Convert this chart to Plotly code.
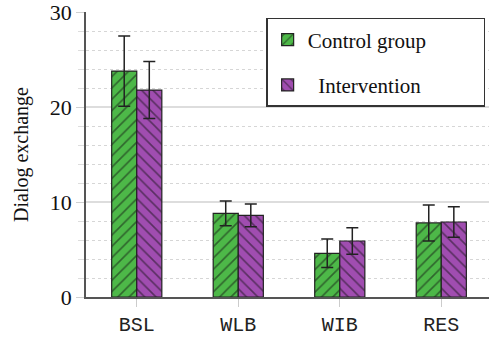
import plotly.graph_objects as go

categories = ["BSL", "WLB", "WIB", "RES"]
control = [23.8, 8.8, 4.6, 7.8]
control_err = [3.7, 1.3, 1.5, 1.9]
intervention = [21.8, 8.6, 5.9, 7.9]
intervention_err = [3.0, 1.2, 1.4, 1.6]

GREEN = "#4db848"
PURPLE = "#a04db0"
NB = "\u00a0"
SERIF = "Liberation Serif, Times New Roman, Tinos, DejaVu Serif, serif"
MONO = "Liberation Mono, Courier New, Cousine, monospace"

fig = go.Figure()
fig.add_trace(go.Bar(
    x=categories, y=control, name="Control group" + NB * 10,
    legendgroup="a",
    marker=dict(color=GREEN, line=dict(color="#222222", width=1.2),
                pattern=dict(shape="/", fgcolor="#111111", bgcolor=GREEN, size=8, solidity=0.2)),
    error_y=dict(type="data", array=control_err, color="#222222", thickness=1.5, width=6),
))
fig.add_trace(go.Bar(
    x=categories, y=intervention, name=NB * 2 + "Intervention",
    legendgroup="b",
    marker=dict(color=PURPLE, line=dict(color="#222222", width=1.2),
                pattern=dict(shape="\\", fgcolor="#111111", bgcolor=PURPLE, size=8, solidity=0.2)),
    error_y=dict(type="data", array=intervention_err, color="#222222", thickness=1.5, width=6),
))

fig.update_layout(
    width=489, height=337,
    margin=dict(l=86, r=0, t=11, b=34),
    paper_bgcolor="white", plot_bgcolor="white",
    barmode="group", bargap=0.506, bargroupgap=0,
    font=dict(family=SERIF, size=21, color="#111111"),
    legend=dict(x=0.447, y=0.979, xanchor="left", yanchor="top",
                bordercolor="#333333", borderwidth=1.5, bgcolor="white",
                tracegroupgap=15, font=dict(size=21, family=SERIF)),
    xaxis=dict(range=[-0.5, 3.47], showline=True, linecolor="#555555", linewidth=1.5,
               ticks="outside", ticklen=8, tickcolor="#cccccc",
               tickfont=dict(family=MONO, size=20, color="#222222"),
               showgrid=False),
    yaxis=dict(range=[0, 30.02], tickvals=[0, 10, 20, 30], showline=True,
               linecolor="#555555", linewidth=1.5,
               ticks="outside", ticklen=8, tickcolor="#d0d0d0",
               ticklabeloverflow="allow",
               showgrid=True, gridcolor="#dddddd", gridwidth=1.5,
               zeroline=False,
               tickfont=dict(family=SERIF, size=22, color="#111111"),
               title=dict(text="Dialog exchange", font=dict(family=SERIF, size=20), standoff=16),
               minor=dict(dtick=2, tick0=0, showgrid=True, gridcolor="#d6d6d6", griddash="dot",
                          gridwidth=1, ticks="outside", ticklen=6, tickcolor="#dddddd")),
)

fig.write_html("out.html")
